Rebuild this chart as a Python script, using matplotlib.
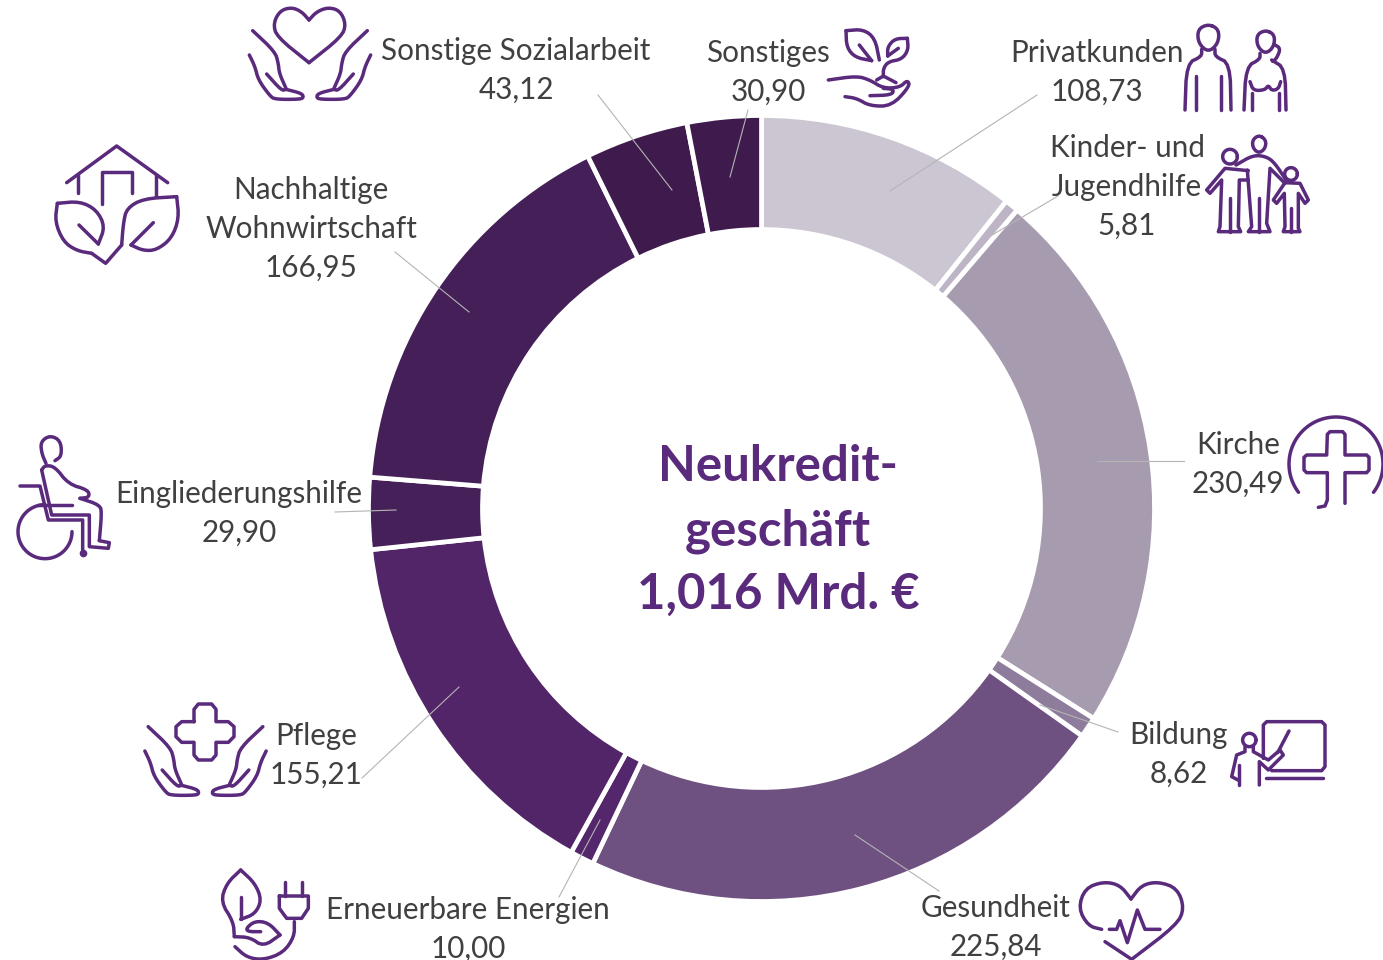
import numpy as np
import matplotlib
matplotlib.use('Agg')
import matplotlib.pyplot as plt

# data, clockwise from the top
categories = ['Privatkunden', 'Kinder- und\nJugendhilfe', 'Kirche', 'Bildung', 'Gesundheit',
              'Erneuerbare Energien', 'Pflege', 'Eingliederungshilfe',
              'Nachhaltige\nWohnwirtschaft', 'Sonstige Sozialarbeit', 'Sonstiges']
values = [108.73, 5.81, 230.49, 8.62, 225.84, 10.00, 155.21, 29.90, 166.95, 43.12, 30.90]
colors = ['#CBC6D1', '#BDB5C5', '#A79CAF', '#8E7C9C', '#6F5181', '#54266B',
          '#512567', '#462058', '#441F58', '#3E1A4D', '#3E1A4D']
center_lines = ['Neukredit-', 'geschäft', '1,016 Mrd. €']

# label anchor (x centre, baseline of first line) in pixels
label_xy = [(1097, 62), (1127, 157), (1238, 454), (1179, 744), (996, 917),
            (468, 919), (316, 745), (239, 503), (311, 199), (516, 60), (768, 62)]
# leader lines in pixels, outer end then inner end
leaders = [((1037, 95), (890, 191)), ((1058, 196), (992, 235)), ((1184, 461), (1097, 461)),
           ((1118, 732), (1040, 705)), ((939, 891), (855, 835)), ((559, 897), (600, 820)),
           ((362, 778), (459, 687)), ((335, 512), (396, 510)), ((395, 252), (469, 312)),
           ((598, 95), (672, 190)), ((748, 110), (730, 177))]

W, H = 1383, 960
CX, CY, R, R_IN = 761.5, 508.5, 393, 279
PURPLE = '#5A2A7C'
TEXT = '#404040'
plt.rcParams['font.family'] = ['Lato', 'DejaVu Sans']

fig = plt.figure(figsize=(W / 100, H / 100), dpi=100)
ax_pie = fig.add_axes([(CX - R - 5) / W, 1 - (CY + R + 5) / H, (2 * R + 10) / W, (2 * R + 10) / H])
ax_pie.pie(values, colors=colors, startangle=90, counterclock=False, radius=R,
           wedgeprops=dict(width=R - R_IN, edgecolor='white', linewidth=3.4))
ax_pie.set_xlim(-R - 5, R + 5)
ax_pie.set_ylim(-R - 5, R + 5)

# overlay in image pixels for labels and icons
ax = fig.add_axes([0, 0, 1, 1])
ax.set_xlim(0, W)
ax.set_ylim(H, 0)
ax.axis('off')
ax.patch.set_alpha(0)

for (a, b) in leaders:
    ax.plot([a[0], b[0]], [a[1], b[1]], color='#B4B4B4', lw=0.8, zorder=2)

for name, val, (x, y) in zip(categories, values, label_xy):
    lines = name.split('\n') + [f'{val:.2f}'.replace('.', ',')]
    for i, s in enumerate(lines):
        ax.text(x, y + 39 * i, s, ha='center', va='baseline', fontsize=21.3, color=TEXT)

for i, s in enumerate(center_lines):
    ax.text(778, 481 + 64 * i, s, ha='center', va='baseline', fontsize=35.4,
            fontweight='bold', color=PURPLE)


def chaikin(pts, n=2, closed=False):
    p = np.array(pts, float)
    for _ in range(n):
        if closed:
            q = np.roll(p, -1, axis=0)
            p = np.column_stack([0.75 * p + 0.25 * q, 0.25 * p + 0.75 * q]).reshape(-1, 2)
        else:
            a, b = p[:-1], p[1:]
            mid = np.column_stack([0.75 * a + 0.25 * b, 0.25 * a + 0.75 * b]).reshape(-1, 2)
            p = np.vstack([p[0], mid, p[-1]])
    if closed:
        p = np.vstack([p, p[0]])
    return p


def stroke(pts, ox=0, oy=0, closed=False, smooth=True, mirror=None, lw=2.5):
    p = chaikin(pts, closed=closed) if smooth else np.array(pts + pts[:1] if closed else pts, float)
    if mirror is not None:
        p = p * [-1, 1] + [2 * mirror, 0]
    ax.plot(p[:, 0] / 3 + ox, p[:, 1] / 3 + oy, color=PURPLE, lw=lw, solid_capstyle='round',
            solid_joinstyle='round', zorder=3, clip_on=True)


def arc(cx, cy, r, a0, a1, ox=0, oy=0):
    t = np.radians(np.linspace(a0, a1, 80))
    stroke(list(zip(cx + r * np.cos(t), cy + r * np.sin(t))), ox, oy, smooth=False)


def hands(ox, oy, axis):
    for m in (None, axis):
        stroke([(758, 92), (825, 155), (835, 190), (838, 220), (858, 265)], ox, oy, mirror=m)
        stroke([(858, 268), (905, 280), (911, 292), (900, 298), (825, 298), (810, 288),
                (775, 240), (765, 200), (748, 165)], ox, oy, mirror=m)
        stroke([(800, 222), (845, 272), (858, 268)], ox, oy, mirror=m)


# Sonstige Sozialarbeit
hands(0, 0, 930)
stroke([(927, 60), (905, 35), (875, 22), (840, 32), (820, 70), (830, 110), (927, 188)])
stroke([(927, 60), (950, 35), (985, 22), (1020, 32), (1038, 72), (1025, 110), (927, 188)])

# Pflege
hands(-104.5, 696, 930)
stroke([(582, 905), (582, 868), (595, 852), (635, 852), (648, 868), (648, 905), (685, 905),
        (702, 920), (702, 950), (685, 967), (648, 967), (648, 1005), (635, 1020), (595, 1020),
        (582, 1005), (582, 967), (545, 967), (528, 950), (528, 920), (545, 905)],
       0, 420, closed=True, smooth=False)

# Nachhaltige Wohnwirtschaft
stroke([(200, 548), (350, 438), (503, 548)], smooth=False)
stroke([(235, 525), (235, 578)], smooth=False)
stroke([(305, 612), (305, 515), (397, 515), (397, 580)], smooth=False)
stroke([(468, 525), (468, 590)], smooth=False)
stroke([(172, 610), (240, 604), (290, 630), (315, 680), (295, 732)])
stroke([(237, 675), (295, 732)], smooth=False)
stroke([(172, 610), (165, 665), (190, 725), (230, 752), (275, 760)])
stroke([(275, 760), (317, 790), (365, 735)], smooth=False)
stroke([(365, 735), (370, 670), (380, 625), (430, 596), (530, 590)])
stroke([(530, 590), (537, 655), (515, 715), (470, 750), (430, 752), (393, 735)])
stroke([(393, 735), (460, 668)], smooth=False)

# Sonstiges
ox, oy = 820, 0
stroke([(78, 92), (130, 88), (165, 115), (178, 180)], ox, oy)
stroke([(78, 92), (80, 142), (105, 172), (155, 182)], ox, oy)
stroke([(155, 182), (118, 135)], ox, oy, smooth=False)
stroke([(262, 115), (225, 116), (203, 140), (203, 168)], ox, oy)
stroke([(203, 168), (235, 145)], ox, oy, smooth=False)
stroke([(262, 115), (265, 150), (245, 178), (205, 185), (190, 205), (190, 230)], ox, oy)
stroke([(170, 240), (190, 228), (228, 248)], ox, oy, smooth=False)
stroke([(25, 240), (110, 228), (150, 240), (190, 265), (240, 262), (262, 240), (270, 258),
        (215, 318), (150, 318), (110, 295), (75, 290)], ox, oy)
stroke([(150, 287), (215, 285), (222, 268), (190, 265)], ox, oy)

# Privatkunden
stroke([(1165, 72), (1197, 88), (1195, 130), (1165, 157), (1135, 130), (1133, 88)], ox, oy, closed=True)
stroke([(1145, 148), (1145, 170), (1100, 190), (1095, 330)], ox, oy)
stroke([(1185, 148), (1185, 170), (1230, 190), (1233, 330)], ox, oy)
stroke([(1127, 228), (1127, 330)], ox, oy, smooth=False)
stroke([(1203, 228), (1203, 330)], ox, oy, smooth=False)
stroke([(1337, 90), (1364, 104), (1362, 140), (1337, 162), (1312, 140), (1310, 104)], ox, oy, closed=True)
stroke([(1362, 133), (1382, 145), (1370, 175), (1358, 184)], ox, oy)
stroke([(1320, 160), (1320, 178), (1278, 200), (1272, 330)], ox, oy)
stroke([(1355, 180), (1395, 205), (1398, 330)], ox, oy)
stroke([(1290, 245), (1300, 272), (1335, 270), (1345, 255), (1355, 272), (1375, 267), (1382, 245)], ox, oy)
stroke([(1297, 280), (1297, 330)], ox, oy, smooth=False)
stroke([(1376, 280), (1376, 330)], ox, oy, smooth=False)

# Kinder- und Jugendhilfe
stroke([(1317, 405), (1338, 420), (1336, 445), (1317, 460), (1299, 445), (1297, 420)], ox, oy, closed=True)
stroke([(1248, 495), (1300, 465), (1340, 470), (1365, 490), (1398, 540)], ox, oy)
stroke([(1282, 510), (1295, 680), (1285, 695), (1350, 695), (1340, 670), (1350, 505), (1395, 550)], ox, oy, smooth=False)
stroke([(1318, 595), (1318, 695)], ox, oy, smooth=False)
arc(1230, 470, 22, 0, 360, ox, oy)
stroke([(1285, 512), (1215, 505), (1160, 570), (1170, 580), (1205, 540), (1200, 680), (1195, 695),
        (1262, 695), (1255, 680), (1258, 540), (1285, 540)], ox, oy, smooth=False)
stroke([(1230, 595), (1230, 695)], ox, oy, smooth=False)
arc(1413, 522, 19, 0, 360, ox, oy)
stroke([(1395, 548), (1440, 550), (1465, 600), (1455, 610), (1435, 580), (1435, 685), (1440, 695),
        (1390, 695), (1395, 680), (1393, 580), (1370, 610), (1360, 600), (1395, 548)], ox, oy, smooth=False)
stroke([(1413, 625), (1413, 695)], ox, oy, smooth=False)

# Kirche
ox, oy = 1050, 400
arc(858, 192, 141, 37, -217, ox, oy)
stroke([(805, 322), (825, 318), (832, 300), (832, 218), (770, 218), (762, 210), (762, 172), (770, 165),
        (830, 165), (832, 103), (840, 95), (878, 95), (885, 103), (885, 165), (950, 165), (957, 172),
        (957, 210), (950, 218), (885, 218), (885, 310)], ox, oy, smooth=False)

# Bildung
stroke([(640, 1075), (640, 975), (650, 965), (815, 965), (825, 975), (825, 1100), (815, 1112), (665, 1112)], ox, oy, smooth=False)
stroke([(648, 1135), (818, 1135)], ox, oy, smooth=False)
stroke([(717, 993), (683, 1058)], ox, oy, smooth=False)
arc(598, 1020, 20, 0, 360, ox, oy)
stroke([(585, 1040), (585, 1055), (560, 1065), (545, 1130), (568, 1142)], ox, oy, smooth=False)
stroke([(568, 1095), (568, 1155)], ox, oy, smooth=False)
stroke([(610, 1040), (610, 1055), (655, 1080), (690, 1050), (700, 1065), (655, 1110), (628, 1085), (628, 1155)], ox, oy, smooth=False)

# Gesundheit
ox, oy = 900, 850
stroke([(605, 238), (565, 228), (535, 175), (555, 115), (610, 95), (660, 105), (693, 147)], ox, oy)
stroke([(693, 147), (725, 105), (775, 95), (832, 115), (853, 175), (830, 225), (695, 328)], ox, oy)
stroke([(695, 328), (615, 275)], ox, oy, smooth=False)
stroke([(628, 238), (650, 238), (660, 212), (682, 278), (712, 180), (735, 238), (780, 238)], ox, oy, smooth=False)

# Erneuerbare Energien
ox, oy = 200, 820
stroke([(122, 150), (165, 190), (185, 240), (165, 282), (122, 298)], ox, oy)
stroke([(122, 298), (122, 230)], ox, oy, smooth=False)
stroke([(122, 150), (80, 190), (62, 245), (100, 305), (103, 350)], ox, oy)
stroke([(103, 350), (150, 352), (190, 380), (240, 345)], ox, oy)
stroke([(240, 345), (205, 308), (165, 303), (138, 325), (145, 335), (182, 335)], ox, oy)
stroke([(105, 380), (140, 412), (190, 420), (250, 398), (283, 350), (283, 305)], ox, oy)
stroke([(238, 228), (325, 228), (325, 265), (305, 295), (260, 295), (238, 265), (238, 228)], ox, oy, smooth=False)
stroke([(255, 185), (255, 228)], ox, oy, smooth=False)
stroke([(305, 185), (305, 228)], ox, oy, smooth=False)

# Eingliederungshilfe
ox, oy = 0, 420
stroke([(165, 122), (185, 108), (182, 62), (150, 46), (122, 65), (125, 100), (138, 130)], ox, oy)
stroke([(125, 150), (135, 136), (165, 140), (205, 192), (265, 210), (268, 232), (240, 235)], ox, oy)
stroke([(240, 235), (300, 255), (305, 280), (298, 362)], ox, oy)
stroke([(298, 362), (328, 368), (325, 385), (268, 380), (268, 285), (155, 285), (125, 150)], ox, oy, smooth=False)
stroke([(60, 198), (120, 198), (145, 300), (248, 300), (248, 400)], ox, oy, smooth=False)
stroke([(115, 255), (215, 255)], ox, oy, smooth=False)
arc(135, 335, 81, 0, 270, ox, oy)
ax.plot([248 / 3], [400 / 3 + oy], 'o', color=PURPLE, ms=4.5, zorder=3)

fig.savefig('out.png', dpi=100, facecolor='white')
